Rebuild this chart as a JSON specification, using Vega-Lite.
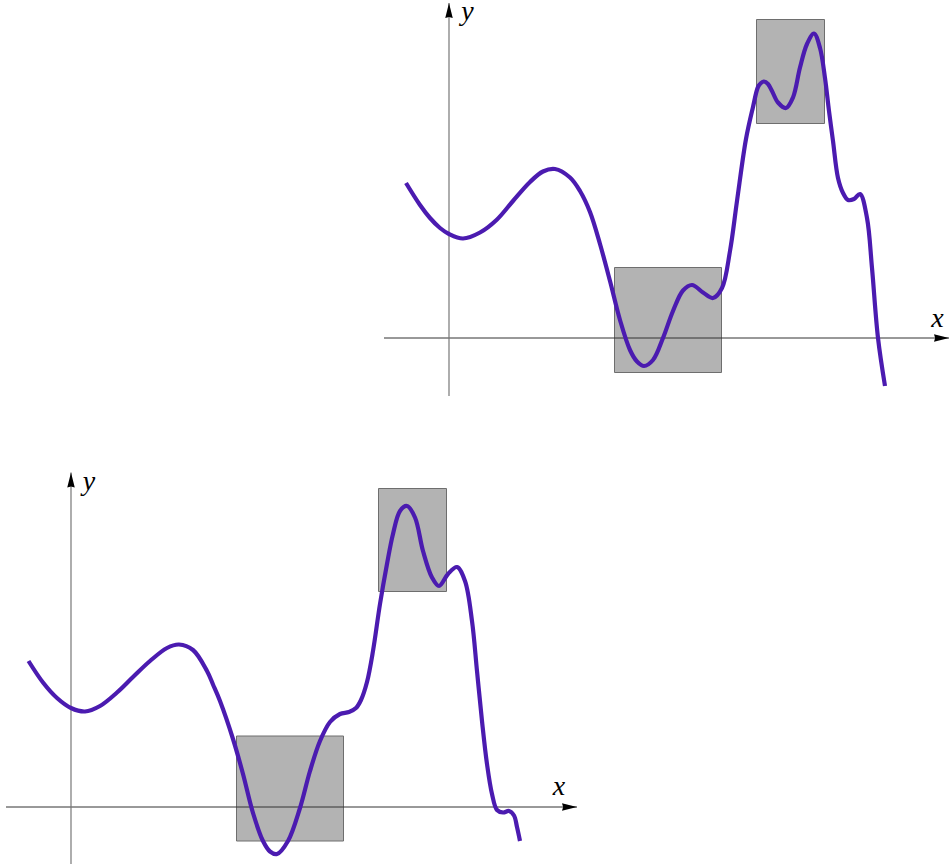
{
  "$schema": "https://vega.github.io/schema/vega-lite/v6.json",
  "padding": {"top": -3, "left": 0, "right": 0, "bottom": 0},
  "background": "white",
  "spacing": 60,
  "bounds": "flush",
  "config": {"view": {"stroke": null}},
  "datasets": {
    "top_curve": [
      {"x": -0.86, "y": 3.10}, {"x": -0.58, "y": 2.66}, {"x": -0.38, "y": 2.40}, {"x": -0.18, "y": 2.20},
      {"x": 0, "y": 2.08}, {"x": 0.28, "y": 1.99}, {"x": 0.62, "y": 2.11}, {"x": 0.95, "y": 2.36},
      {"x": 1.28, "y": 2.74}, {"x": 1.62, "y": 3.12}, {"x": 1.88, "y": 3.33}, {"x": 2.12, "y": 3.38},
      {"x": 2.42, "y": 3.21}, {"x": 2.62, "y": 2.94}, {"x": 2.82, "y": 2.52}, {"x": 3.02, "y": 1.88},
      {"x": 3.22, "y": 1.14}, {"x": 3.42, "y": 0.36}, {"x": 3.62, "y": -0.24}, {"x": 3.76, "y": -0.47},
      {"x": 3.90, "y": -0.56}, {"x": 4.08, "y": -0.44}, {"x": 4.28, "y": 0.0}, {"x": 4.48, "y": 0.54},
      {"x": 4.68, "y": 0.95}, {"x": 4.86, "y": 1.06}, {"x": 5.08, "y": 0.91}, {"x": 5.28, "y": 0.80},
      {"x": 5.46, "y": 1.00}, {"x": 5.62, "y": 1.74}, {"x": 5.76, "y": 2.74}, {"x": 5.94, "y": 3.98},
      {"x": 6.08, "y": 4.62}, {"x": 6.18, "y": 5.02}, {"x": 6.24, "y": 5.10}, {"x": 6.30, "y": 5.13},
      {"x": 6.38, "y": 5.08}, {"x": 6.46, "y": 4.94},
      {"x": 6.58, "y": 4.71}, {"x": 6.74, "y": 4.60}, {"x": 6.88, "y": 4.81}, {"x": 7.02, "y": 5.41},
      {"x": 7.16, "y": 5.88}, {"x": 7.30, "y": 6.09}, {"x": 7.42, "y": 5.80}, {"x": 7.52, "y": 5.20},
      {"x": 7.60, "y": 4.54}, {"x": 7.68, "y": 3.94}, {"x": 7.78, "y": 3.20}, {"x": 7.88, "y": 2.90},
      {"x": 7.98, "y": 2.76}, {"x": 8.10, "y": 2.78}, {"x": 8.22, "y": 2.88}, {"x": 8.36, "y": 2.40},
      {"x": 8.46, "y": 1.40}, {"x": 8.58, "y": 0.0}, {"x": 8.72, "y": -0.96}
    ],
    "top_boxes": [
      {"x": 3.31, "x2": 5.45, "y": 1.41, "y2": -0.69},
      {"x": 6.15, "x2": 7.51, "y": 6.37, "y2": 4.29}
    ],
    "top_xaxis": [{"x": -1.3, "x2": 10.0, "y": 0}],
    "top_yaxis": [{"x": 0, "y": -1.16, "y2": 6.70}],
    "top_labels": [
      {"x": 9.77, "y": 0.22, "t": "x"},
      {"x": 0.37, "y": 6.36, "t": "y"}
    ],
    "bottom_curve": [
      {"x": -0.85, "y": 2.92}, {"x": -0.56, "y": 2.49}, {"x": -0.28, "y": 2.18}, {"x": 0, "y": 1.98},
      {"x": 0.28, "y": 1.91}, {"x": 0.58, "y": 2.02}, {"x": 0.92, "y": 2.29}, {"x": 1.24, "y": 2.60},
      {"x": 1.58, "y": 2.92}, {"x": 1.92, "y": 3.18}, {"x": 2.16, "y": 3.25}, {"x": 2.44, "y": 3.14},
      {"x": 2.72, "y": 2.72}, {"x": 2.84, "y": 2.45}, {"x": 2.98, "y": 2.12}, {"x": 3.24, "y": 1.36},
      {"x": 3.44, "y": 0.66}, {"x": 3.64, "y": -0.12}, {"x": 3.84, "y": -0.68}, {"x": 3.98, "y": -0.89},
      {"x": 4.12, "y": -0.94}, {"x": 4.34, "y": -0.68}, {"x": 4.58, "y": -0.02}, {"x": 4.78, "y": 0.72},
      {"x": 4.98, "y": 1.32}, {"x": 5.18, "y": 1.70}, {"x": 5.38, "y": 1.86}, {"x": 5.56, "y": 1.90},
      {"x": 5.70, "y": 1.98}, {"x": 5.80, "y": 2.14}, {"x": 5.92, "y": 2.50}, {"x": 6.04, "y": 3.12},
      {"x": 6.18, "y": 4.06}, {"x": 6.32, "y": 4.86}, {"x": 6.44, "y": 5.46}, {"x": 6.58, "y": 5.92},
      {"x": 6.72, "y": 6.02}, {"x": 6.88, "y": 5.79}, {"x": 7.04, "y": 5.12}, {"x": 7.22, "y": 4.59},
      {"x": 7.36, "y": 4.42}, {"x": 7.54, "y": 4.66}, {"x": 7.72, "y": 4.80}, {"x": 7.88, "y": 4.52},
      {"x": 8.02, "y": 3.72}, {"x": 8.12, "y": 2.72}, {"x": 8.22, "y": 1.72}, {"x": 8.32, "y": 0.86},
      {"x": 8.42, "y": 0.26}, {"x": 8.52, "y": -0.06}, {"x": 8.64, "y": -0.11}, {"x": 8.76, "y": -0.08},
      {"x": 8.86, "y": -0.17}, {"x": 8.92, "y": -0.40}, {"x": 8.98, "y": -0.68}
    ],
    "bottom_boxes": [
      {"x": 3.31, "x2": 5.45, "y": 1.42, "y2": -0.68},
      {"x": 6.15, "x2": 7.51, "y": 6.37, "y2": 4.31}
    ],
    "bottom_xaxis": [{"x": -1.3, "x2": 10.12, "y": 0}],
    "bottom_yaxis": [{"x": 0, "y": -1.14, "y2": 6.69}],
    "bottom_labels": [
      {"x": 9.76, "y": 0.25, "t": "x"},
      {"x": 0.36, "y": 6.35, "t": "y"}
    ]
  },
  "vconcat": [
    {
      "width": 949,
      "height": 400,
      "encoding": {
        "x": {"field": "x", "type": "quantitative", "scale": {"domain": [-8.98, 10.0], "nice": false, "zero": false}, "axis": null},
        "y": {"field": "y", "type": "quantitative", "scale": {"domain": [-1.26, 6.74], "nice": false, "zero": false}, "axis": null}
      },
      "layer": [
        {"data": {"name": "top_boxes"}, "mark": {"type": "rect", "fill": "#b3b3b3", "stroke": "#6e6e6e", "strokeWidth": 1}, "encoding": {"x2": {"field": "x2"}, "y2": {"field": "y2"}}},
        {"data": {"name": "top_xaxis"}, "mark": {"type": "rule", "color": "#333333", "strokeWidth": 1}, "encoding": {"x2": {"field": "x2"}}},
        {"data": {"name": "top_yaxis"}, "mark": {"type": "rule", "color": "#777777", "strokeWidth": 1.2}, "encoding": {"y2": {"field": "y2"}}},
        {"data": {"name": "top_curve"}, "mark": {"type": "line", "color": "#4b1bb0", "strokeWidth": 4.2, "interpolate": "catmull-rom"}, "encoding": {}},
        {"data": {"name": "top_xaxis"}, "mark": {"type": "point", "shape": "M0,0L-2,-0.5L-1.85,0L-2,0.5Z", "size": 225, "filled": true, "color": "black", "opacity": 1, "strokeWidth": 0}, "encoding": {"x": {"field": "x2", "type": "quantitative", "axis": null}}},
        {"data": {"name": "top_yaxis"}, "mark": {"type": "point", "shape": "M0,0L0.5,2L0,1.85L-0.5,2Z", "size": 225, "filled": true, "color": "black", "opacity": 1, "strokeWidth": 0}, "encoding": {"y": {"field": "y2", "type": "quantitative", "axis": null}}},
        {"data": {"name": "top_labels"}, "mark": {"type": "text", "font": "Liberation Serif", "fontStyle": "italic", "fontSize": 28, "align": "center", "baseline": "alphabetic", "color": "black"}, "encoding": {"text": {"field": "t"}}}
      ]
    },
    {
      "width": 949,
      "height": 405,
      "encoding": {
        "x": {"field": "x", "type": "quantitative", "scale": {"domain": [-1.42, 17.56], "nice": false, "zero": false}, "axis": null},
        "y": {"field": "y", "type": "quantitative", "scale": {"domain": [-1.18, 6.92], "nice": false, "zero": false}, "axis": null}
      },
      "layer": [
        {"data": {"name": "bottom_boxes"}, "mark": {"type": "rect", "fill": "#b3b3b3", "stroke": "#6e6e6e", "strokeWidth": 1}, "encoding": {"x2": {"field": "x2"}, "y2": {"field": "y2"}}},
        {"data": {"name": "bottom_xaxis"}, "mark": {"type": "rule", "color": "#333333", "strokeWidth": 1}, "encoding": {"x2": {"field": "x2"}}},
        {"data": {"name": "bottom_yaxis"}, "mark": {"type": "rule", "color": "#777777", "strokeWidth": 1.2}, "encoding": {"y2": {"field": "y2"}}},
        {"data": {"name": "bottom_curve"}, "mark": {"type": "line", "color": "#4b1bb0", "strokeWidth": 4.2, "interpolate": "catmull-rom"}, "encoding": {}},
        {"data": {"name": "bottom_xaxis"}, "mark": {"type": "point", "shape": "M0,0L-2,-0.5L-1.85,0L-2,0.5Z", "size": 225, "filled": true, "color": "black", "opacity": 1, "strokeWidth": 0}, "encoding": {"x": {"field": "x2", "type": "quantitative", "axis": null}}},
        {"data": {"name": "bottom_yaxis"}, "mark": {"type": "point", "shape": "M0,0L0.5,2L0,1.85L-0.5,2Z", "size": 225, "filled": true, "color": "black", "opacity": 1, "strokeWidth": 0}, "encoding": {"y": {"field": "y2", "type": "quantitative", "axis": null}}},
        {"data": {"name": "bottom_labels"}, "mark": {"type": "text", "font": "Liberation Serif", "fontStyle": "italic", "fontSize": 28, "align": "center", "baseline": "alphabetic", "color": "black"}, "encoding": {"text": {"field": "t"}}}
      ]
    }
  ]
}
